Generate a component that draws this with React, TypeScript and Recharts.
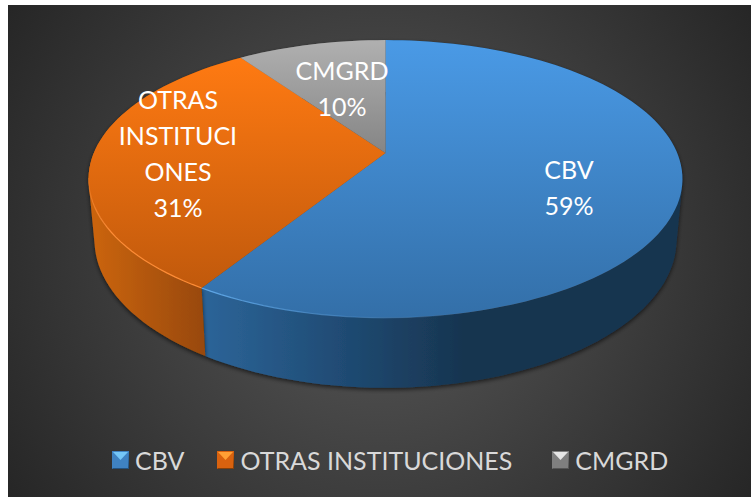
import { PieChart, Pie, Cell, Legend } from 'recharts';

const NAMES = ['CBV', 'OTRAS INSTITUCIONES', 'CMGRD'];
const VALUES = [58.9, 31.4, 9.7];
const LABEL_LINES = [['CBV'], ['OTRAS', 'INSTITUCI', 'ONES'], ['CMGRD']];

const pieData = NAMES.map((name, i) => ({ name, value: VALUES[i] }));

const COLORS = ['#3f86cb', '#e8680f', '#999999'];
const TOP_FILLS = ['url(#topBlue)', 'url(#topOrange)', 'url(#topGray)'];
const SIDE_FILLS = ['url(#sideBlue)', 'url(#sideOrange)', '#6a6a6a'];
const RIM_STROKES = ['url(#rimBlue)', 'url(#rimOrange)', 'none'];
const ICON_COLORS = [
  ['#3f82c2', '#74c6f7', '#24527f'],
  ['#d9620f', '#ffa035', '#84400b'],
  ['#7f7f7f', '#e6e6e6', '#555555'],
];
// where the text of each slice sits (centre x, centre y of first line)
const LABEL_POS = [
  [569, 169],
  [178, 99],
  [342, 70],
];
const LEGEND_GAPS = [33, 40, 0];
const FONT = 'Lato, Carlito, sans-serif';
const FONT_SIZE = 25;
const LINE_GAP = 36;

// 3D tilt of the disc: a perspective view of a circle
const APEX_X = 385.5;
const APEX_Y = 153;
const TILT = 0.187;
const SCALE_X = 291.7;
const SCALE_Y = 134;
const BOTTOM_APEX_Y = 212.3;
const BOTTOM_SCALE_X = 0.98;
const BOTTOM_SCALE_Y = 1.065;

function project(angle: number, apexY: number, sx: number, sy: number) {
  const rad = ((90 - angle) * Math.PI) / 180;
  const u = Math.sin(rad);
  const v = -Math.cos(rad);
  const d = 1 - TILT * v;
  return [APEX_X + (sx * SCALE_X * u) / d, apexY + (sy * SCALE_Y * v) / d];
}

function arcPoints(start: number, end: number, apexY: number, sx: number, sy: number) {
  const steps = Math.max(2, Math.ceil(Math.abs(end - start) / 2));
  const pts = [];
  for (let i = 0; i <= steps; i++) {
    pts.push(project(start + ((end - start) * i) / steps, apexY, sx, sy));
  }
  return pts;
}

const toPath = (pts: number[][]) =>
  pts.map((p, i) => `${i === 0 ? 'M' : 'L'}${p[0].toFixed(2)},${p[1].toFixed(2)}`).join(' ');

function signedArea(pts: number[][]) {
  let sum = 0;
  pts.forEach((p, i) => {
    const q = pts[(i + 1) % pts.length];
    sum += p[0] * q[1] - q[0] * p[1];
  });
  return sum;
}

function TopShape(props: any) {
  const { startAngle, endAngle, index } = props;
  const arc = arcPoints(startAngle, endAngle, APEX_Y, 1, 1);
  const d = `M${APEX_X},${APEX_Y} ${toPath(arc).replace('M', 'L')} Z`;
  // only the front edge catches the light
  const rim = arc.filter((p) => p[1] > 175);
  return (
    <g>
      <path d={d} fill={TOP_FILLS[index]} />
      {rim.length > 1 && (
        <path d={toPath(rim)} fill="none" stroke={RIM_STROKES[index]} strokeWidth={1.2} />
      )}
    </g>
  );
}

// the wall is one quad per arc step, all wound the same way so the fill is their union
function SideShape(props: any) {
  const { startAngle, endAngle, index } = props;
  const top = arcPoints(startAngle, endAngle, APEX_Y, 1, 1);
  const bottom = arcPoints(startAngle, endAngle, BOTTOM_APEX_Y, BOTTOM_SCALE_X, BOTTOM_SCALE_Y);
  const quads = [];
  for (let i = 0; i < top.length - 1; i++) {
    const quad = [top[i], top[i + 1], bottom[i + 1], bottom[i]];
    if (signedArea(quad) < 0) quad.reverse();
    quads.push(`${toPath(quad)} Z`);
  }
  return <path d={quads.join(' ')} fill={SIDE_FILLS[index]} filter="url(#pieShadow)" />;
}

function renderLabel(props: any) {
  const { index, percent } = props;
  const [x, y] = LABEL_POS[index];
  const lines = [...LABEL_LINES[index], `${Math.round(percent * 100)}%`];
  return (
    <text
      key={index}
      textAnchor="middle"
      fill="#ffffff"
      fontFamily={FONT}
      fontSize={FONT_SIZE}
      dominantBaseline="central"
    >
      {lines.map((line, i) => (
        <tspan key={i} x={x} y={y + i * LINE_GAP}>
          {line}
        </tspan>
      ))}
    </text>
  );
}

function LegendIcon({ index }: { index: number }) {
  const [body, light, dark] = ICON_COLORS[index];
  return (
    <svg width={17} height={18} style={{ display: 'block' }}>
      <rect width={17} height={18} fill={body} />
      <polygon points="1,1 16,1 8.5,9" fill={light} />
      <polygon points="0,18 17,18 17,0 16,17 1,17" fill={dark} />
    </svg>
  );
}

function renderLegend(props: any) {
  const items = (props.payload || []).filter((p: any) => p.type !== 'none');
  return (
    <div style={{ display: 'flex', paddingLeft: 112 }}>
      {items.map((entry: any, i: number) => (
        <div
          key={entry.value}
          style={{ display: 'flex', alignItems: 'center', gap: 6, marginRight: LEGEND_GAPS[i], whiteSpace: 'nowrap' }}
        >
          <LegendIcon index={i} />
          <span style={{ color: '#d9d9d9', fontFamily: FONT, fontSize: FONT_SIZE, lineHeight: '30px' }}>
            {entry.value}
          </span>
        </div>
      ))}
    </div>
  );
}

export default function App() {
  return (
    <div style={{ position: 'absolute', left: 0, top: 0, width: 751, height: 497, overflow: 'hidden', background: '#fff' }}>
      <div
        style={{
          position: 'absolute',
          left: 8,
          top: 5,
          width: 743,
          height: 492,
          background: 'radial-gradient(circle farthest-corner at 50% 50%, #5a5a5a 0%, #262626 100%)',
        }}
      />
      <PieChart width={751} height={497} margin={{ top: 0, right: 0, bottom: 0, left: 0 }} style={{ position: 'absolute', left: 0, top: 0 }}>
        <defs>
          <linearGradient id="topBlue" gradientUnits="userSpaceOnUse" x1="0" y1="40" x2="0" y2="318">
            <stop offset="0%" stopColor="#4a9ae6" />
            <stop offset="100%" stopColor="#336fa8" />
          </linearGradient>
          <linearGradient id="topOrange" gradientUnits="userSpaceOnUse" x1="0" y1="57" x2="0" y2="290">
            <stop offset="0%" stopColor="#ff7a12" />
            <stop offset="100%" stopColor="#c0590c" />
          </linearGradient>
          <linearGradient id="topGray" gradientUnits="userSpaceOnUse" x1="0" y1="40" x2="0" y2="153">
            <stop offset="0%" stopColor="#b0b0b0" />
            <stop offset="100%" stopColor="#858585" />
          </linearGradient>
          <linearGradient id="sideBlue" gradientUnits="userSpaceOnUse" x1="205" y1="0" x2="680" y2="0">
            <stop offset="0%" stopColor="#2c6498" />
            <stop offset="30%" stopColor="#1f4a72" />
            <stop offset="55%" stopColor="#17344f" />
            <stop offset="100%" stopColor="#17344f" />
          </linearGradient>
          <linearGradient id="sideOrange" gradientUnits="userSpaceOnUse" x1="90" y1="0" x2="207" y2="0">
            <stop offset="0%" stopColor="#cc650f" />
            <stop offset="100%" stopColor="#974807" />
          </linearGradient>
          <linearGradient id="rimBlue" gradientUnits="userSpaceOnUse" x1="205" y1="0" x2="480" y2="0">
            <stop offset="0%" stopColor="#5fa8e8" />
            <stop offset="100%" stopColor="#3f86cb" stopOpacity={0} />
          </linearGradient>
          <linearGradient id="rimOrange" gradientUnits="userSpaceOnUse" x1="0" y1="175" x2="0" y2="230">
            <stop offset="0%" stopColor="#ff8c35" stopOpacity={0.2} />
            <stop offset="100%" stopColor="#ff8c35" />
          </linearGradient>
          <filter id="pieShadow" x="-10%" y="-10%" width="120%" height="125%">
            <feDropShadow dx="0" dy="2" stdDeviation="2" floodColor="#000000" floodOpacity="0.6" />
          </filter>
        </defs>
        <Pie
          data={pieData}
          dataKey="value"
          nameKey="name"
          startAngle={90}
          endAngle={-270}
          outerRadius={100}
          legendType="none"
          stroke="none"
          isAnimationActive={false}
          shape={SideShape}
        />
        <Pie
          data={pieData}
          dataKey="value"
          nameKey="name"
          startAngle={90}
          endAngle={-270}
          outerRadius={100}
          stroke="none"
          isAnimationActive={false}
          shape={TopShape}
          label={renderLabel}
          labelLine={false}
        >
          {pieData.map((_, i) => (
            <Cell key={i} fill={COLORS[i]} />
          ))}
        </Pie>
        <Legend
          content={renderLegend}
          itemSorter={null}
          wrapperStyle={{ position: 'absolute', left: 0, top: 445, width: 751, bottom: 'auto' }}
        />
      </PieChart>
    </div>
  );
}
